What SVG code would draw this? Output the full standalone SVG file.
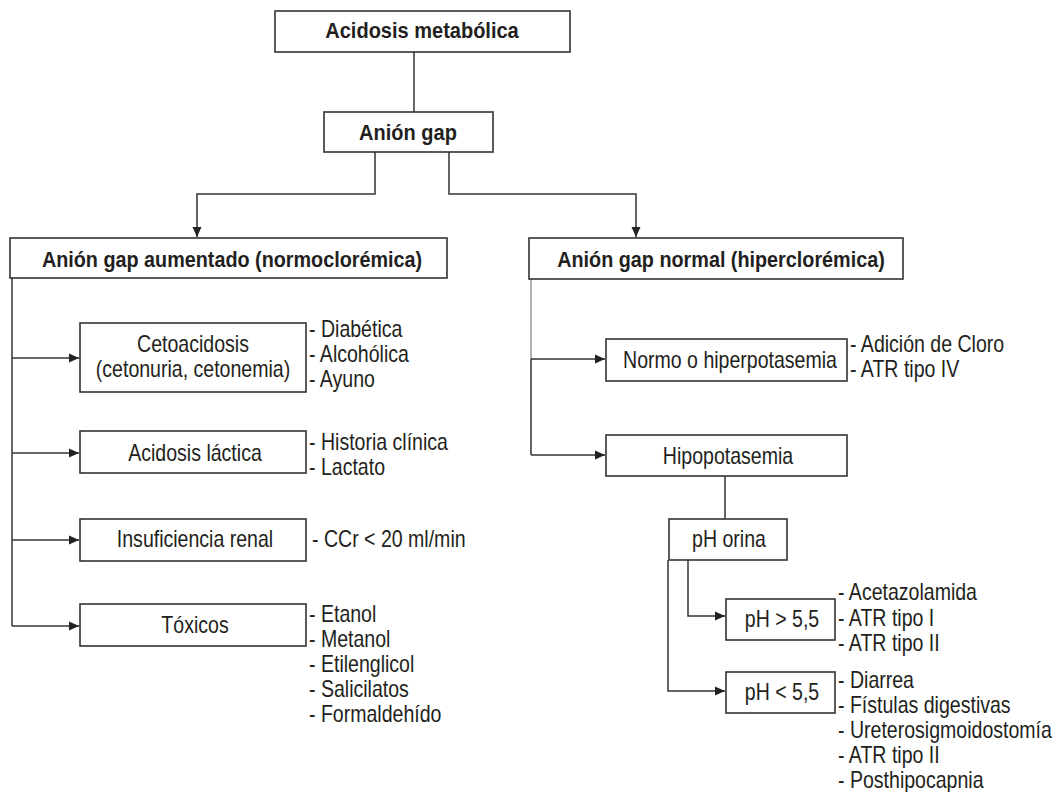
<svg xmlns="http://www.w3.org/2000/svg" width="1059" height="792" viewBox="0 0 1059 792">
  <defs>
    <marker id="arrow" markerUnits="userSpaceOnUse" markerWidth="11" markerHeight="10" refX="10" refY="5" orient="auto">
      <path d="M0,0.5 L10,5 L0,9.5 z" fill="#222"/>
    </marker>
    <style>
      .box { fill: #fff; stroke: #333; stroke-width: 1.6; }
      .edge { fill: none; stroke: #333; stroke-width: 1.5; }
      .soft { fill: none; stroke: #999; stroke-width: 1.5; }
      /* narrow sans: regular text is drawn at 23px and squeezed horizontally */
      .t { font-family: "Liberation Sans", Arial, sans-serif; font-size: 23px; fill: #231f20; }
      .b { font-family: "Liberation Sans", Arial, sans-serif; font-size: 22px; font-weight: bold; fill: #231f20; }
      .c { text-anchor: middle; }
    </style>
  </defs>
  <rect width="1059" height="792" fill="#fff"/>

  <!-- connectors -->
  <g id="connectors">
    <path class="edge" d="M414,52 V112"/>
    <path class="edge" d="M375,152 V194 H197 V237" marker-end="url(#arrow)"/>
    <path class="edge" d="M449,152 V194 H636 V237" marker-end="url(#arrow)"/>
    <!-- left trunk -->
    <path class="edge" d="M12,278 V626"/>
    <path class="edge" d="M12,358 H79" marker-end="url(#arrow)"/>
    <path class="edge" d="M12,453 H79" marker-end="url(#arrow)"/>
    <path class="edge" d="M12,540 H79" marker-end="url(#arrow)"/>
    <path class="edge" d="M12,626 H79" marker-end="url(#arrow)"/>
    <!-- right trunk -->
    <path class="soft" d="M531,279 V359"/>
    <path class="edge" d="M531,359 V455"/>
    <path class="edge" d="M531,359 H605" marker-end="url(#arrow)"/>
    <path class="edge" d="M531,455 H605" marker-end="url(#arrow)"/>
    <path class="edge" d="M725,476 V519"/>
    <path class="edge" d="M668,560 V691 H725" marker-end="url(#arrow)"/>
    <path class="edge" d="M688,560 V616 H725" marker-end="url(#arrow)"/>
  </g>

  <g id="acidosis-metabolica">
    <rect class="box" x="275" y="11" width="295" height="41"/>
    <text class="b c" transform="matrix(0.91 0 0 1 422 38)">Acidosis metabólica</text>
  </g>

  <g id="anion-gap">
    <rect class="box" x="324" y="112" width="169" height="40"/>
    <text class="b c" transform="matrix(0.91 0 0 1 408 140)">Anión gap</text>
  </g>

  <g id="gap-aumentado">
    <rect class="box" x="10" y="238" width="437" height="40"/>
    <text class="b c" transform="matrix(0.9 0 0 1 232 267)">Anión gap aumentado (normoclorémica)</text>
  </g>

  <g id="gap-normal">
    <rect class="box" x="529" y="238" width="374" height="41"/>
    <text class="b c" transform="matrix(0.9 0 0 1 721 267)">Anión gap normal (hiperclorémica)</text>
  </g>

  <g id="cetoacidosis">
    <rect class="box" x="80" y="323" width="226" height="69"/>
    <text class="t c" transform="matrix(0.85 0 0 1 193 352)">Cetoacidosis</text>
    <text class="t c" transform="matrix(0.85 0 0 1 193 377)">(cetonuria, cetonemia)</text>
    <text class="t" transform="matrix(0.85 0 0 1 309 337)">- Diabética</text>
    <text class="t" transform="matrix(0.85 0 0 1 309 362)">- Alcohólica</text>
    <text class="t" transform="matrix(0.85 0 0 1 309 387)">- Ayuno</text>
  </g>

  <g id="acidosis-lactica">
    <rect class="box" x="80" y="431" width="226" height="42"/>
    <text class="t c" transform="matrix(0.85 0 0 1 195 461)">Acidosis láctica</text>
    <text class="t" transform="matrix(0.85 0 0 1 309 450)">- Historia clínica</text>
    <text class="t" transform="matrix(0.85 0 0 1 309 475)">- Lactato</text>
  </g>

  <g id="insuficiencia-renal">
    <rect class="box" x="80" y="519" width="226" height="42"/>
    <text class="t c" transform="matrix(0.85 0 0 1 195 547)">Insuficiencia renal</text>
    <text class="t" transform="matrix(0.85 0 0 1 312 547)">- CCr &lt; 20 ml/min</text>
  </g>

  <g id="toxicos">
    <rect class="box" x="80" y="604" width="226" height="42"/>
    <text class="t c" transform="matrix(0.85 0 0 1 195 633)">Tóxicos</text>
    <text class="t" transform="matrix(0.85 0 0 1 309 622)">- Etanol</text>
    <text class="t" transform="matrix(0.85 0 0 1 309 647)">- Metanol</text>
    <text class="t" transform="matrix(0.85 0 0 1 309 672)">- Etilenglicol</text>
    <text class="t" transform="matrix(0.85 0 0 1 309 697)">- Salicilatos</text>
    <text class="t" transform="matrix(0.85 0 0 1 309 722)">- Formaldehído</text>
  </g>

  <g id="normo-hiperpotasemia">
    <rect class="box" x="606" y="339" width="241" height="42"/>
    <text class="t c" transform="matrix(0.85 0 0 1 730 368)">Normo o hiperpotasemia</text>
    <text class="t" transform="matrix(0.85 0 0 1 850 352)">- Adición de Cloro</text>
    <text class="t" transform="matrix(0.85 0 0 1 850 377)">- ATR tipo IV</text>
  </g>

  <g id="hipopotasemia">
    <rect class="box" x="606" y="435" width="241" height="41"/>
    <text class="t c" transform="matrix(0.85 0 0 1 728 464)">Hipopotasemia</text>
  </g>

  <g id="ph-orina">
    <rect class="box" x="669" y="519" width="118" height="41"/>
    <text class="t c" transform="matrix(0.85 0 0 1 729 547)">pH orina</text>
  </g>

  <g id="ph-mayor">
    <rect class="box" x="726" y="599" width="109" height="41"/>
    <text class="t c" transform="matrix(0.85 0 0 1 782 627)">pH &gt; 5,5</text>
    <text class="t" transform="matrix(0.85 0 0 1 838 600)">- Acetazolamida</text>
    <text class="t" transform="matrix(0.85 0 0 1 838 626)">- ATR tipo I</text>
    <text class="t" transform="matrix(0.85 0 0 1 838 651)">- ATR tipo II</text>
  </g>

  <g id="ph-menor">
    <rect class="box" x="726" y="672" width="109" height="41"/>
    <text class="t c" transform="matrix(0.85 0 0 1 782 700)">pH &lt; 5,5</text>
    <text class="t" transform="matrix(0.85 0 0 1 838 688)">- Diarrea</text>
    <text class="t" transform="matrix(0.85 0 0 1 838 713)">- Fístulas digestivas</text>
    <text class="t" transform="matrix(0.85 0 0 1 838 738)">- Ureterosigmoidostomía</text>
    <text class="t" transform="matrix(0.85 0 0 1 838 763)">- ATR tipo II</text>
    <text class="t" transform="matrix(0.85 0 0 1 838 788)">- Posthipocapnia</text>
  </g>
</svg>
